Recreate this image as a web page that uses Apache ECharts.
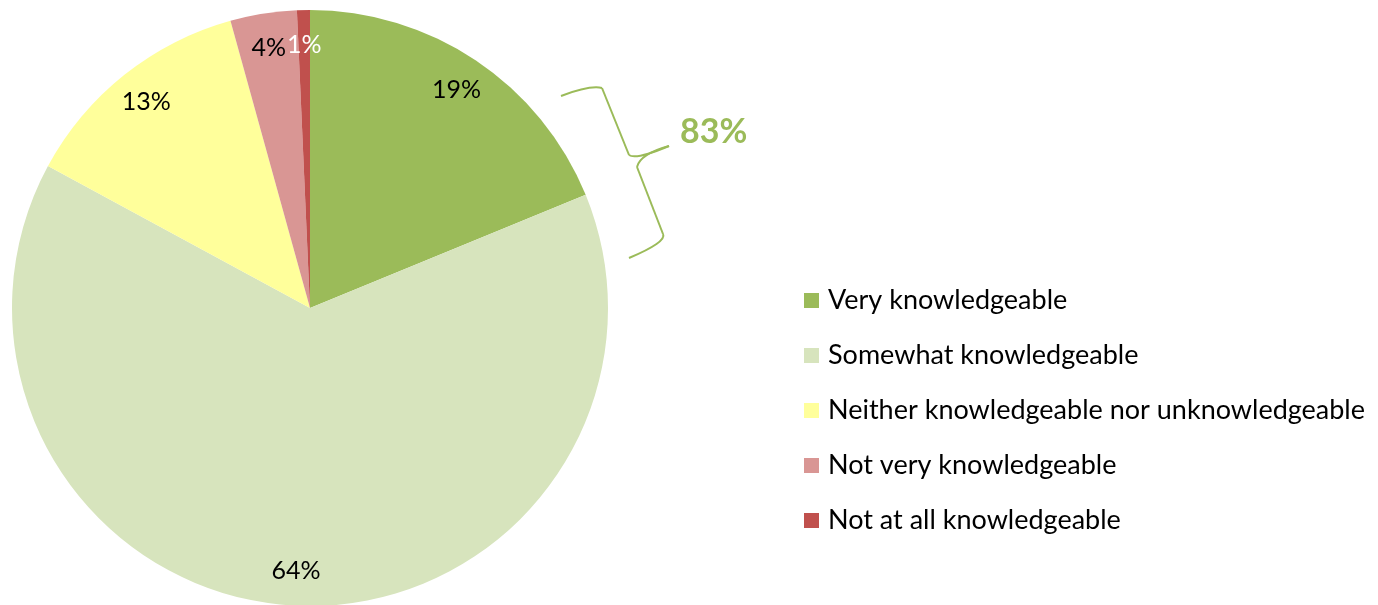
<!DOCTYPE html>
<html>
<head>
<meta charset="utf-8">
<script src="https://cdn.jsdelivr.net/npm/echarts@6/dist/echarts.min.js"></script>
<style>
  html, body { margin: 0; padding: 0; background: #fff; }
  #chart { width: 1378px; height: 605px; }
</style>
</head>
<body>
<div id="chart"></div>
<script>
// categories and shares
const categories = [
  'Very knowledgeable',
  'Somewhat knowledgeable',
  'Neither knowledgeable nor unknowledgeable',
  'Not very knowledgeable',
  'Not at all knowledgeable'
]
const shares = [18.8, 64.1, 12.8, 3.6, 0.7]
const colors = ['#9bbb59', '#d7e4bd', '#ffff9b', '#d99694', '#c0504d']
const labelColors = ['#000', '#000', '#000', '#000', '#fff']
const bracketLabel = '83%'

const FONT = 'Lato, "Open Sans", sans-serif'
const CENTER = [310, 308]
const R = 298
const GREEN = '#9bbb59'

const chart = echarts.init(document.getElementById('chart'))

const pieData = categories.map((name, i) => ({
  name,
  value: shares[i],
  itemStyle: { color: colors[i] }
}))

// curly brace next to the two top slices
const braceStyle = { stroke: GREEN, lineWidth: 2, fill: null }
const curve = (x1, y1, cx, cy, x2, y2) => ({
  type: 'bezierCurve',
  shape: { x1, y1, cpx1: cx, cpy1: cy, x2, y2 },
  style: braceStyle
})
const seg = (x1, y1, x2, y2) => ({
  type: 'line',
  shape: { x1, y1, x2, y2 },
  style: braceStyle
})

chart.setOption({
  animation: false,
  legend: {
    orient: 'vertical',
    left: 799,
    top: 282,
    itemWidth: 15,
    itemHeight: 15,
    itemGap: 28,
    icon: 'rect',
    selectedMode: false,
    data: categories,
    textStyle: {
      fontFamily: FONT,
      fontSize: 27,
      lineHeight: 27,
      color: '#000',
      padding: [0, 0, 0, 4]
    }
  },
  series: [
    {
      type: 'pie',
      center: CENTER,
      radius: [0, R],
      startAngle: 90,
      clockwise: true,
      silent: true,
      label: { show: false },
      labelLine: { show: false },
      data: pieData
    },
    {
      // transparent ring just to place the percentage labels near the rim
      type: 'pie',
      center: CENTER,
      radius: [222, R],
      startAngle: 90,
      clockwise: true,
      silent: true,
      itemStyle: { color: 'rgba(0,0,0,0)' },
      labelLine: { show: false },
      label: {
        show: true,
        position: 'inside',
        fontFamily: FONT,
        fontSize: 25,
        formatter: p => Math.round(p.value) + '%'
      },
      data: categories.map((name, i) => ({
        name,
        value: shares[i],
        itemStyle: { color: 'rgba(0,0,0,0)' },
        label: { color: labelColors[i] }
      }))
    }
  ],
  graphic: [
    curve(561, 96, 590, 85, 602, 88),
    seg(602, 88, 629, 155),
    curve(629, 155, 636, 160, 669, 146),
    curve(669, 146, 640, 154, 637, 167),
    seg(637, 167, 663, 234),
    curve(663, 234, 667, 242, 629, 258),
    {
      type: 'text',
      left: 680,
      top: 115,
      style: {
        text: bracketLabel,
        fontFamily: FONT,
        fontSize: 34,
        fontWeight: 'bold',
        fill: GREEN
      }
    }
  ]
})
</script>
</body>
</html>
